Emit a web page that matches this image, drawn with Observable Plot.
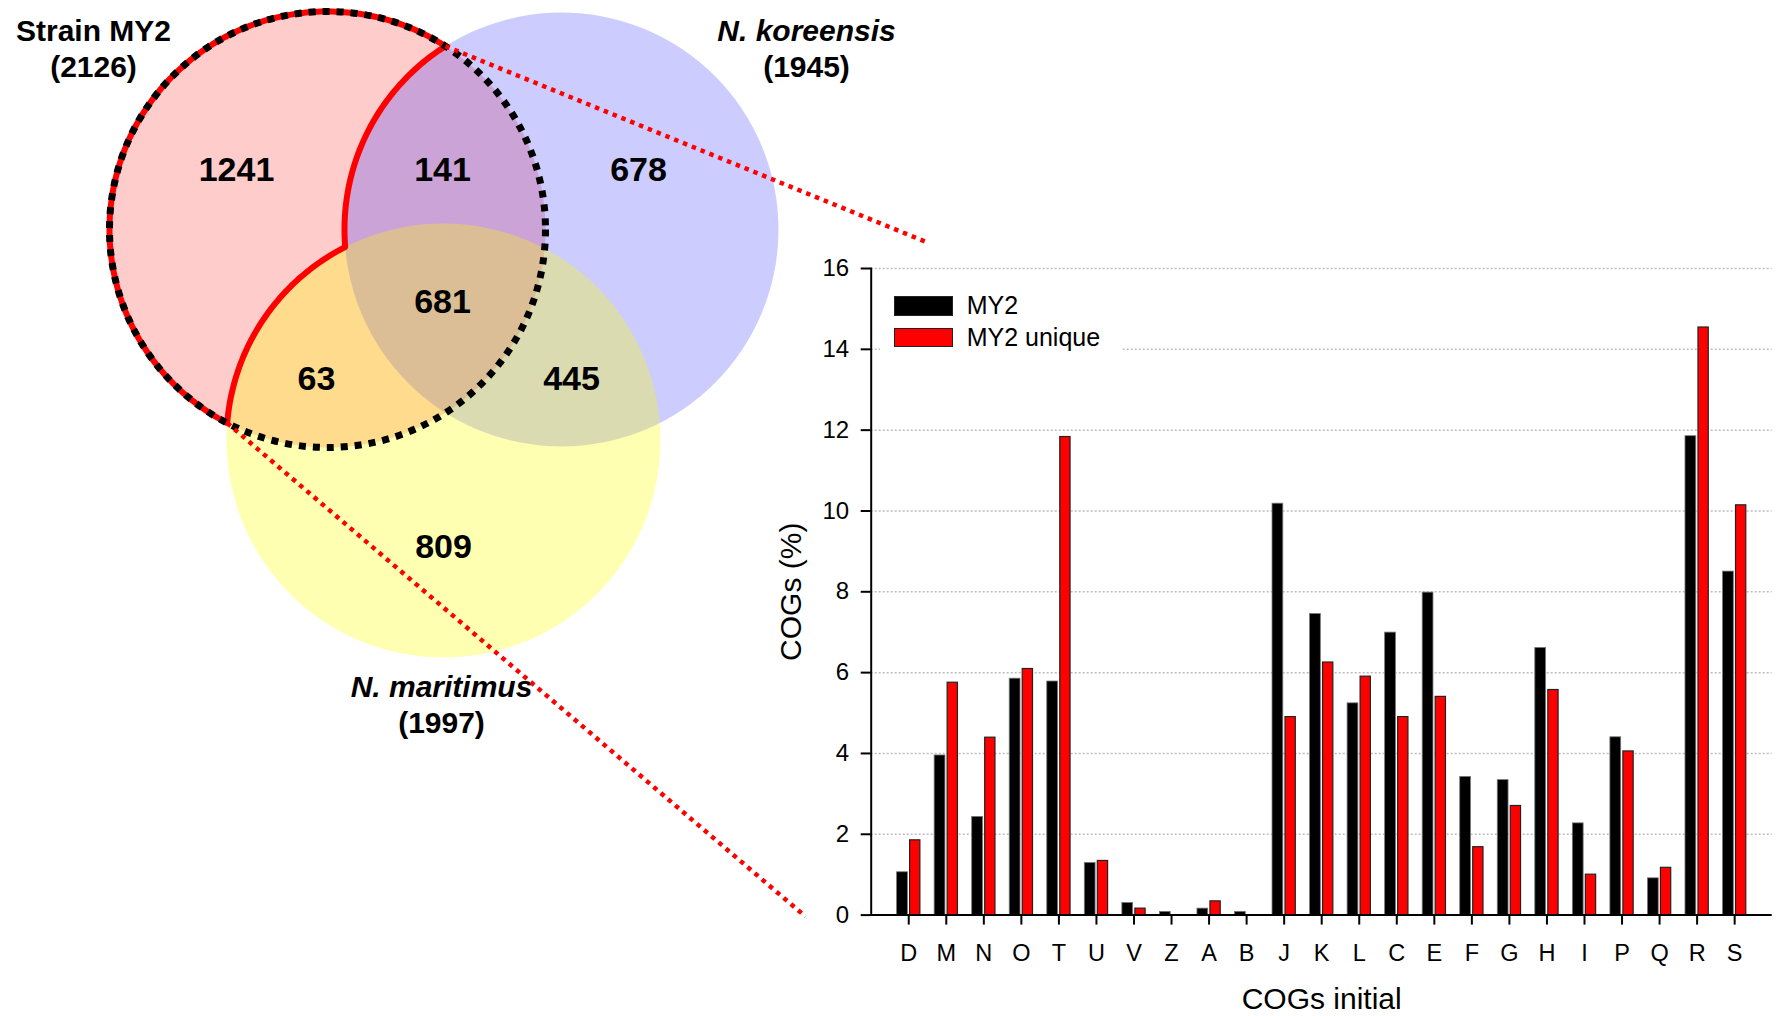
<!DOCTYPE html>
<html>
<head>
<meta charset="utf-8">
<script src="https://cdn.jsdelivr.net/npm/d3@7"></script>
<script src="https://cdn.jsdelivr.net/npm/@observablehq/plot@0.6"></script>
<style>
  body { margin: 0; background: #fff; }
  #fig { position: relative; width: 1780px; height: 1016px; overflow: hidden; font-family: "Liberation Sans", Arial, sans-serif; }
  #fig svg { position: absolute; }
  #legend { position: absolute; left: 880px; top: 282px; width: 242px; height: 76px; background: #fff; }
  #legend .sw { position: absolute; left: 14px; width: 57px; height: 17.5px; box-sizing: content-box; border: 1px solid #222; }
  #legend .lb { position: absolute; left: 86.7px; font-size: 25px; line-height: 25px; white-space: nowrap; color: #000; }
</style>
</head>
<body>
<div id="fig"></div>
<script>
// ---------------- Bar chart data ----------------
const cogs = ["D","M","N","O","T","U","V","Z","A","B","J","K","L","C","E","F","G","H","I","P","Q","R","S"];
const my2 = [1.06, 3.95, 2.43, 5.85, 5.78, 1.29, 0.30, 0.08, 0.16, 0.08, 10.18, 7.45, 5.24, 6.99, 7.98, 3.42, 3.34, 6.61, 2.27, 4.40, 0.91, 11.85, 8.50];
const my2Unique = [1.85, 5.75, 4.39, 6.09, 11.83, 1.34, 0.16, 0, 0.34, 0, 4.90, 6.25, 5.90, 4.90, 5.40, 1.68, 2.70, 5.57, 1.00, 4.05, 1.17, 14.54, 10.14];
const seriesNames = ["MY2", "MY2 unique"];
const yTicks = [0, 2, 4, 6, 8, 10, 12, 14, 16];
const xTitle = "COGs initial";
const yTitle = "COGs (%)";

// ---------------- Venn data ----------------
const setNames = ["Strain MY2", "N. koreensis", "N. maritimus"];
const setTotals = [2126, 1945, 1997];
const regionCounts = [1241, 141, 678, 681, 63, 445, 809];

// ---------------- Venn layout (diagram units) ----------------
const circleCX = [327, 561, 443];
const circleCY = [229, 229, 440];
const circleR  = [218, 217, 217];
const regionX = [236, 442, 638, 442, 316, 571, 443];
const regionY = [180, 180, 180, 312, 389, 389, 557];
const setLabelX = [93, 806, 441];
const setLabelY = [40, 40, 696];
const zoomEndX = [927, 805];
const zoomEndY = [242, 916];

const FONT = '"Liberation Sans", Arial, Helvetica, sans-serif';
const fig = document.getElementById("fig");

// ---------- Venn diagram ----------
const circles = circleCX.map((cx, i) => ({cx, cy: circleCY[i], r: circleR[i]}));
const fills = ["#ff0000", "#0000ff", "#ffff00"];
const fillOps = [0.2, 0.2, 0.3];

function intersect(c1, c2) {
  const dx = c2.cx - c1.cx, dy = c2.cy - c1.cy, d = Math.hypot(dx, dy);
  const a = (c1.r * c1.r - c2.r * c2.r + d * d) / (2 * d);
  const h = Math.sqrt(Math.max(0, c1.r * c1.r - a * a));
  const xm = c1.cx + a * dx / d, ym = c1.cy + a * dy / d;
  return [{x: xm + h * dy / d, y: ym - h * dx / d}, {x: xm - h * dy / d, y: ym + h * dx / d}];
}
function arc(c, p, q, long) {
  const a0 = Math.atan2(p.y - c.cy, p.x - c.cx), a1 = Math.atan2(q.y - c.cy, q.x - c.cx);
  let d = a1 - a0;
  while (d > Math.PI) d -= 2 * Math.PI;
  while (d <= -Math.PI) d += 2 * Math.PI;
  if (long) d = d > 0 ? d - 2 * Math.PI : d + 2 * Math.PI;
  const n = Math.max(8, Math.ceil(Math.abs(d) * c.r / 3));
  return d3.range(n + 1).map(i => {
    const a = a0 + d * i / n;
    return {x: c.cx + c.r * Math.cos(a), y: c.cy + c.r * Math.sin(a)};
  });
}
const [R, B, Y] = circles;
const P1 = intersect(R, B).sort((a, b) => a.y - b.y)[0];
const P3 = intersect(R, Y).sort((a, b) => a.x - b.x)[0];
const P2 = intersect(B, Y).sort((a, b) => a.x - b.x)[0];
const outline = [...arc(R, P1, P3, true), ...arc(Y, P3, P2, false), ...arc(B, P2, P1, false)];
outline.push(outline[0]);

const regions = regionCounts.map((v, i) => ({v, x: regionX[i], y: regionY[i]}));
const setLabels = setNames.map((n, i) => ({name: n, total: `(${setTotals[i]})`, x: setLabelX[i], y: setLabelY[i], italic: i > 0}));
const zoomLinks = [
  {x1: P1.x, y1: P1.y, x2: zoomEndX[0], y2: zoomEndY[0]},
  {x1: P3.x, y1: P3.y, x2: zoomEndX[1], y2: zoomEndY[1]}
];

const venn = Plot.plot({
  width: 1780, height: 1016, margin: 0,
  style: {fontFamily: FONT, background: "transparent"},
  x: {domain: [0, 1780], range: [0, 1780], axis: null},
  y: {domain: [0, 1016], range: [0, 1016], axis: null},
  marks: [
    ...circles.map((c, i) => Plot.dot([c], {x: "cx", y: "cy", r: c.r, fill: fills[i], fillOpacity: fillOps[i], stroke: "none"})),
    Plot.text(regions, {x: "x", y: "y", text: d => String(d.v), fontSize: 34, fontWeight: "bold", lineAnchor: "bottom"}),
    Plot.text(setLabels.filter(d => !d.italic), {x: "x", y: "y", text: "name", fontSize: 30, fontWeight: "bold", lineAnchor: "bottom"}),
    Plot.text(setLabels.filter(d => d.italic), {x: "x", y: "y", text: "name", fontSize: 30, fontWeight: "bold", fontStyle: "italic", lineAnchor: "bottom"}),
    Plot.text(setLabels, {x: "x", y: "y", dy: 36, text: "total", fontSize: 30, fontWeight: "bold", lineAnchor: "bottom"}),
    Plot.line(outline, {x: "x", y: "y", stroke: "#ff0000", strokeWidth: 6, strokeLinejoin: "round"}),
    Plot.dot([R], {x: "cx", y: "cy", r: R.r, fill: "none", stroke: "black", strokeWidth: 7, strokeDasharray: "7,7"}),
    Plot.link(zoomLinks, {x1: "x1", y1: "y1", x2: "x2", y2: "y2", stroke: "#ff0000", strokeWidth: 4.5, strokeDasharray: "4.5,5"})
  ]
});
venn.style.left = "0px"; venn.style.top = "0px";
fig.appendChild(venn);

// ---------- Bar chart ----------
const barData = cogs.map((c, i) => ({cog: c, my2: my2[i], uniq: my2Unique[i]}));
const bars = Plot.plot({
  width: 1080, height: 786,
  marginLeft: 170.7, marginRight: 8.3, marginTop: 38, marginBottom: 101.4,
  style: {fontFamily: FONT, fontSize: "23px", background: "transparent", overflow: "visible"},
  x: {domain: cogs, paddingInner: 0.38, paddingOuter: 0.69, round: false},
  y: {domain: [0, 16]},
  marks: [
    Plot.ruleY(yTicks.filter(d => d > 0), {stroke: "#bdbdbd", strokeWidth: 1.5, strokeDasharray: "2,2"}),
    Plot.barY(barData, {x: "cog", y: "my2", fill: "black", stroke: "#777", strokeWidth: 0.8, insetLeft: 0, insetRight: 12.5}),
    Plot.barY(barData, {x: "cog", y: "uniq", fill: "#ff0000", stroke: "#222", strokeWidth: 1.2, insetLeft: 13, insetRight: 0}),
    Plot.ruleY([0], {stroke: "black", strokeWidth: 2}),
    Plot.frame({anchor: "left", stroke: "black", strokeWidth: 2}),
    Plot.axisY({ticks: yTicks, tickSize: 10, tickPadding: 12, fontSize: 24, strokeWidth: 2, tickFormat: d => String(d), label: null}),
    Plot.axisX({tickSize: 10, tickPadding: 19, fontSize: 23.5, strokeWidth: 2, label: null}),
    Plot.text([yTitle], {text: d => d, frameAnchor: "left", textAnchor: "middle", dx: -80, rotate: -90, fontSize: 30}),
    Plot.text([xTitle], {text: d => d, frameAnchor: "bottom", dy: 93.4, lineAnchor: "bottom", fontSize: 30})
  ]
});
bars.style.left = "700px"; bars.style.top = "230px";
fig.appendChild(bars);

// ---------- Legend ----------
const legend = document.createElement("div");
legend.id = "legend";
const swColors = ["#000000", "#ff0000"];
seriesNames.forEach((name, i) => {
  const sw = document.createElement("div");
  sw.className = "sw";
  sw.style.top = (i === 0 ? 14 : 45.7) + "px";
  sw.style.background = swColors[i];
  legend.appendChild(sw);
  const lb = document.createElement("div");
  lb.className = "lb";
  lb.style.top = (i === 0 ? 10.8 : 42.8) + "px";
  lb.textContent = name;
  legend.appendChild(lb);
});
fig.appendChild(legend);
</script>
</body>
</html>
